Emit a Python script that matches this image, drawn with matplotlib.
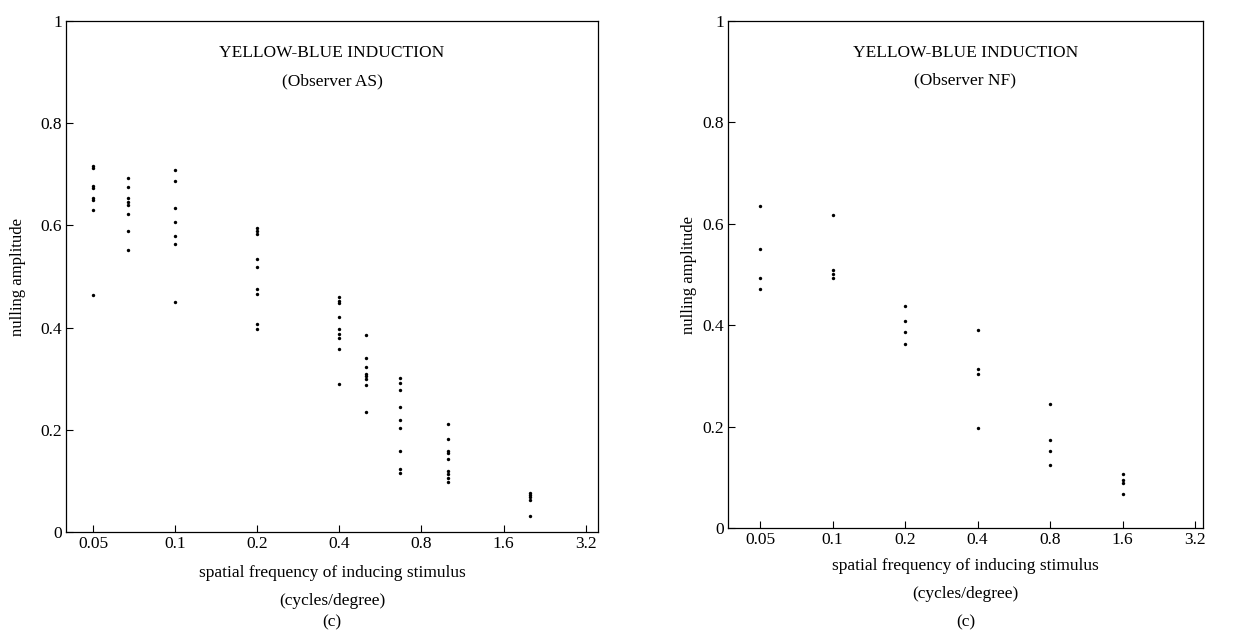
import numpy as np
import matplotlib.pyplot as plt

plt.rcParams['font.family'] = ['Liberation Serif', 'DejaVu Serif']

# observer AS: spatial frequency (cycles/degree) -> nulling amplitudes
as_freq = [0.05, 0.067, 0.1, 0.2, 0.4, 0.5, 0.67, 1.0, 2.0]
as_vals = [
    [0.717, 0.713, 0.678, 0.674, 0.654, 0.650, 0.630, 0.464],
    [0.692, 0.675, 0.654, 0.645, 0.640, 0.622, 0.590, 0.552],
    [0.709, 0.686, 0.634, 0.606, 0.579, 0.564, 0.450],
    [0.594, 0.589, 0.584, 0.535, 0.519, 0.476, 0.466, 0.408, 0.398],
    [0.460, 0.452, 0.448, 0.420, 0.397, 0.387, 0.379, 0.358, 0.290],
    [0.385, 0.341, 0.323, 0.310, 0.305, 0.299, 0.287, 0.234],
    [0.301, 0.292, 0.277, 0.245, 0.220, 0.204, 0.159, 0.123, 0.115],
    [0.212, 0.182, 0.159, 0.154, 0.142, 0.119, 0.113, 0.106, 0.098],
    [0.077, 0.072, 0.068, 0.062, 0.031],
]

# observer NF
nf_freq = [0.05, 0.1, 0.2, 0.4, 0.8, 1.6]
nf_vals = [
    [0.636, 0.550, 0.493, 0.471],
    [0.618, 0.509, 0.501, 0.493],
    [0.437, 0.409, 0.386, 0.362],
    [0.390, 0.314, 0.304, 0.197],
    [0.245, 0.174, 0.152, 0.125],
    [0.106, 0.095, 0.088, 0.068],
]

xticks = [0.05, 0.1, 0.2, 0.4, 0.8, 1.6, 3.2]
xticklabels = ['0.05', '0.1', '0.2', '0.4', '0.8', '1.6', '3.2']
yticks = [0, 0.2, 0.4, 0.6, 0.8, 1.0]
yticklabels = ['0', '0.2', '0.4', '0.6', '0.8', '1']

fig = plt.figure(figsize=(12.6, 6.32), dpi=100)
ax1 = fig.add_axes([66/1260, 1-532/632, 532/1260, 511/632])
ax2 = fig.add_axes([728/1260, 1-528/632, 475/1260, 507/632])


def draw(ax, freqs, vals, observer, xlim, pad):
    for f, v in zip(freqs, vals):
        ax.scatter([f]*len(v), v, s=6, color='black', marker='o', lw=0)
    ax.set_xscale('log', base=2)
    ax.set_xlim(*xlim)
    ax.set_ylim(0, 1)
    ax.set_xticks(xticks)
    ax.set_xticklabels(xticklabels)
    ax.set_yticks(yticks)
    ax.set_yticklabels(yticklabels)
    ax.minorticks_off()
    ax.tick_params(direction='in', length=5, width=0.8, labelsize=12.5, pad=3)
    for s in ax.spines.values():
        s.set_linewidth(0.9)
    ax.set_ylabel('nulling amplitude', fontsize=12, labelpad=pad)
    ax.text(0.5, 0.937, 'YELLOW-BLUE INDUCTION', transform=ax.transAxes,
            ha='center', va='center', fontsize=12.5)
    ax.text(0.5, 0.882, '(Observer %s)' % observer, transform=ax.transAxes,
            ha='center', va='center', fontsize=12.5)


draw(ax1, as_freq, as_vals, 'AS', (0.0398, 3.55), 10)
draw(ax2, nf_freq, nf_vals, 'NF', (0.0368, 3.45), 4)

for ax, y0 in [(ax1, 573), (ax2, 566)]:
    bb = ax.get_position()
    xc = (bb.x0 + bb.x1) / 2
    fig.text(xc, 1 - y0/632, 'spatial frequency of inducing stimulus',
             ha='center', va='center', fontsize=12.5)
    fig.text(xc, 1 - (y0 + 28)/632, '(cycles/degree)',
             ha='center', va='center', fontsize=12.5)
    fig.text(xc, 1 - 622/632, '(c)', ha='center', va='center', fontsize=12.5)

fig.savefig('out.png', dpi=100)
